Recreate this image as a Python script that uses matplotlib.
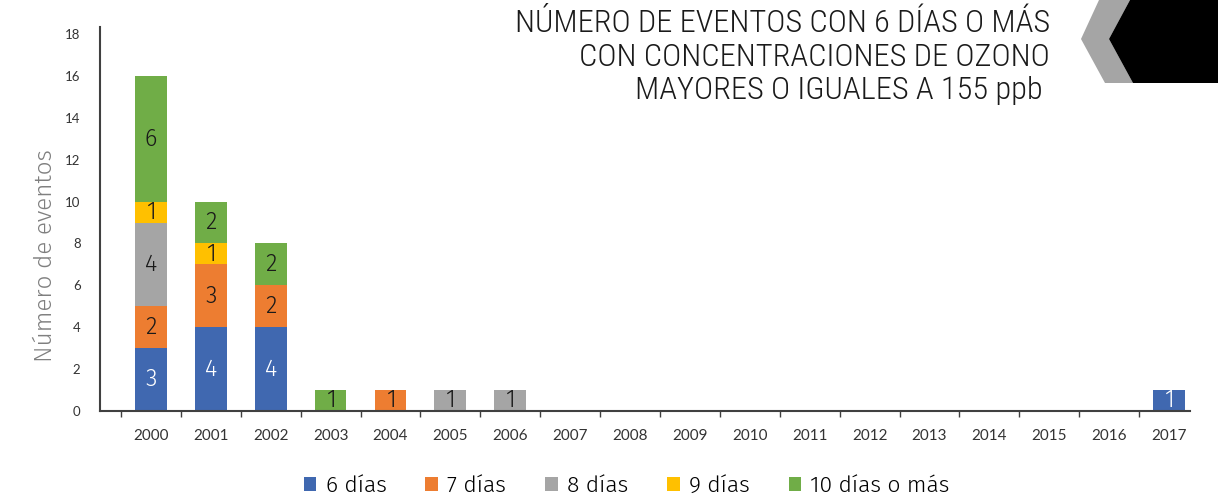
import matplotlib
matplotlib.use('Agg')
import matplotlib.pyplot as plt
from matplotlib.patches import Polygon
import numpy as np

matplotlib.rcParams['font.family'] = ['Lato', 'DejaVu Sans']

# datos
years = [str(y) for y in range(2000, 2018)]
dias_6 = [3, 4, 4, 0, 0, 0, 0, 0, 0, 0, 0, 0, 0, 0, 0, 0, 0, 1]
dias_7 = [2, 3, 2, 0, 1, 0, 0, 0, 0, 0, 0, 0, 0, 0, 0, 0, 0, 0]
dias_8 = [4, 0, 0, 0, 0, 1, 1, 0, 0, 0, 0, 0, 0, 0, 0, 0, 0, 0]
dias_9 = [1, 1, 0, 0, 0, 0, 0, 0, 0, 0, 0, 0, 0, 0, 0, 0, 0, 0]
dias_10 = [6, 2, 2, 1, 0, 0, 0, 0, 0, 0, 0, 0, 0, 0, 0, 0, 0, 0]

series = [
    ('6 días', dias_6, '#4068B0', 'white'),
    ('7 días', dias_7, '#ED7D31', '#1a1a1a'),
    ('8 días', dias_8, '#A5A5A5', '#1a1a1a'),
    ('9 días', dias_9, '#FFC000', '#1a1a1a'),
    ('10 días o más', dias_10, '#70AD47', '#1a1a1a'),
]

light = ['Fira Sans', 'Lato', 'DejaVu Sans']
narrow = ['Roboto Condensed', 'Fira Sans Condensed', 'Open Sans Condensed', 'Pragati Narrow', 'Fira Sans', 'DejaVu Sans']

fig = plt.figure(figsize=(12.29, 4.97), dpi=100)
ax = fig.add_axes([100 / 1229, 1 - 411 / 497, 1090 / 1229, 384 / 497])

x = np.arange(len(years))
bottom = np.zeros(len(years))
for name, vals, color, tcolor in series:
    vals = np.array(vals, dtype=float)
    ax.bar(x, vals, bottom=bottom, width=0.53, color=color, label=name)
    for xi, v, b in zip(x, vals, bottom):
        if v > 0:
            ax.text(xi, b + v / 2, str(int(v)), ha='center', va='center',
                    fontsize=17, color=tcolor, family=light, fontweight=300)
    bottom += vals

ax.set_xlim(-0.85, 17.35)
ax.set_ylim(0, 18.34)

# ticks de categoría en los bordes, etiquetas al centro
ax.set_xticks(np.arange(-0.5, 17, 1))
ax.set_xticklabels([])
ax.set_xticks(x, minor=True)
ax.set_xticklabels(years, minor=True, fontsize=11, color='#333333')
ax.tick_params(axis='x', which='major', length=4, width=1, color='#404040', direction='out')
ax.tick_params(axis='x', which='minor', length=0, pad=13)

ax.set_yticks(range(0, 19, 2))
ax.tick_params(axis='y', length=0, labelsize=9.5, labelcolor='#333333', pad=14)

for s in ['top', 'right']:
    ax.spines[s].set_visible(False)
for s in ['left', 'bottom']:
    ax.spines[s].set_color('#404040')
    ax.spines[s].set_linewidth(1.5)

ax.set_ylabel('Número de eventos', fontsize=17.5, color='#7f7f7f',
              family=light, fontweight=300)
ax.yaxis.set_label_coords(-0.04, 0.405)

# título
fig.text(1050 / 1229, 1 - 9 / 497,
         'NÚMERO DE EVENTOS CON 6 DÍAS O MÁS\nCON CONCENTRACIONES DE OZONO\nMAYORES O IGUALES A 155 ppb ',
         ha='right', va='top', fontsize=23.3, color='#1a1a1a', linespacing=1.2,
         family=narrow, fontweight=300)

# decoración (chevron)
W, H = 1229, 497
def fc(px, py):
    return (px / W, 1 - py / H)
gray = Polygon([fc(1099, 0), fc(1130, 0), fc(1109, 39), fc(1133, 83), fc(1105, 83), fc(1081, 39)],
               closed=True, transform=fig.transFigure, color='#A5A5A5', lw=0)
black = Polygon([fc(1130, 0), fc(1218, 0), fc(1218, 83), fc(1133, 83), fc(1109, 39)],
                closed=True, transform=fig.transFigure, color='black', lw=0)
fig.patches.extend([gray, black])

fig.legend(loc='lower center', bbox_to_anchor=(0.51, -0.04), ncol=5, frameon=False,
           prop={'family': light, 'weight': 300, 'size': 16.5},
           handlelength=0.55, handleheight=0.55, handletextpad=0.4, columnspacing=1.7)

fig.savefig('out.png', dpi=100)
